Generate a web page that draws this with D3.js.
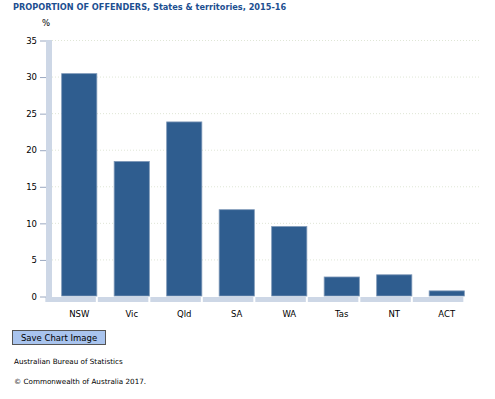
<!DOCTYPE html>
<html>
<head>
<meta charset="utf-8">
<script src="https://d3js.org/d3.v7.min.js"></script>
<style>
body { margin:0; background:#fff; font-family:"DejaVu Sans", Verdana, sans-serif; }
</style>
</head>
<body>
<script>
// data
var states = ['NSW','Vic','Qld','SA','WA','Tas','NT','ACT'];
var proportion = [30.4, 18.4, 23.8, 11.8, 9.5, 2.6, 2.9, 0.7];
var yTicks = [0, 5, 10, 15, 20, 25, 30, 35];

var svg = d3.select('body').append('svg')
    .attr('width', 495)
    .attr('height', 399);

svg.append('text')
    .attr('x', 13)
    .attr('y', 10)
    .attr('fill', '#1d4f91')
    .attr('font-size', 8.2)
    .attr('font-weight', 'bold')
    .text('PROPORTION OF OFFENDERS, States & territories, 2015-16');

svg.append('text')
    .attr('x', 42)
    .attr('y', 26)
    .attr('font-size', 8.5)
    .attr('fill', '#000')
    .text('%');

var x = d3.scaleBand()
    .domain(states)
    .range([53, 473])
    .paddingInner(0.33)
    .paddingOuter(0.165);

var y = d3.scaleLinear()
    .domain([0, 35])
    .range([296, 40]);

// gridlines
svg.selectAll('.grid')
    .data(yTicks.filter(function(d){ return d > 0; }))
    .enter().append('line')
    .attr('x1', 52)
    .attr('x2', 480)
    .attr('y1', function(d){ return y(d) + 0.5; })
    .attr('y2', function(d){ return y(d) + 0.5; })
    .attr('stroke', '#dfe6d6')
    .attr('stroke-dasharray', '1,2');

// left axis strip
svg.append('rect')
    .attr('x', 46)
    .attr('y', y(35))
    .attr('width', 6)
    .attr('height', y(0) - y(35) + 6)
    .attr('fill', '#cdd7e6');

// bottom strip, one block per category
svg.selectAll('.strip')
    .data(states)
    .enter().append('rect')
    .attr('x', function(d){ return x(d) - x.step() * 0.165 * 2 + 1; })
    .attr('y', 297)
    .attr('width', x.step() - 2)
    .attr('height', 5)
    .attr('fill', '#cdd7e6');

// y axis
var yAxis = d3.axisLeft(y).tickValues(yTicks).tickSize(6).tickPadding(3);
var gy = svg.append('g')
    .attr('transform', 'translate(46,0.5)')
    .call(yAxis);
gy.select('.domain').remove();
gy.selectAll('line').attr('stroke', '#9aa8c0');
gy.selectAll('text').attr('font-size', 8.5).attr('font-family', '"DejaVu Sans", Verdana, sans-serif').attr('fill', '#000');

// bars
svg.selectAll('.bar')
    .data(proportion)
    .enter().append('rect')
    .attr('x', function(d, i){ return x(states[i]); })
    .attr('y', function(d){ return y(d); })
    .attr('width', x.bandwidth())
    .attr('height', function(d){ return y(0) - y(d); })
    .attr('fill', '#2f5d8f')
    .attr('stroke', '#7e98b8')
    .attr('stroke-width', 0.8);

// category labels
var xAxis = d3.axisBottom(x).tickSize(0).tickPadding(0);
var gx = svg.append('g')
    .attr('transform', 'translate(0,311)')
    .call(xAxis);
gx.select('.domain').remove();
gx.selectAll('text').attr('font-size', 8.5).attr('font-family', '"DejaVu Sans", Verdana, sans-serif').attr('fill', '#000');

// save button
svg.append('rect')
    .attr('x', 12.5)
    .attr('y', 330.5)
    .attr('width', 93)
    .attr('height', 14)
    .attr('fill', '#a9c4ee')
    .attr('stroke', '#555');
svg.append('text')
    .attr('x', 59)
    .attr('y', 341)
    .attr('text-anchor', 'middle')
    .attr('font-size', 8.5)
    .text('Save Chart Image');

svg.append('text')
    .attr('x', 14)
    .attr('y', 364)
    .attr('font-size', 7.2)
    .text('Australian Bureau of Statistics');

svg.append('text')
    .attr('x', 14)
    .attr('y', 384)
    .attr('font-size', 7.2)
    .text('\u00A9 Commonwealth of Australia 2017.');
</script>
</body>
</html>
